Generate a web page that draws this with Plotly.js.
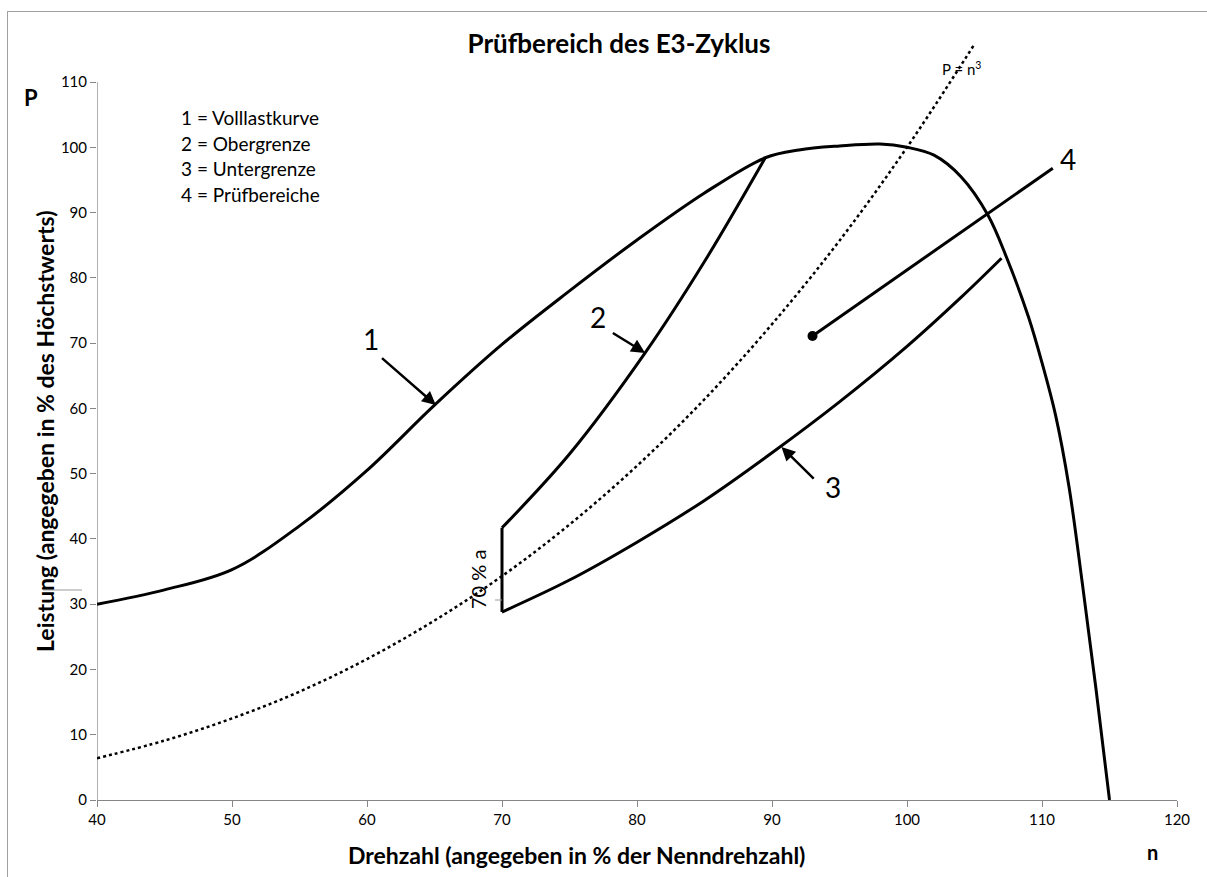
<!DOCTYPE html>
<html>
<head>
<meta charset="utf-8">
<script src="https://cdn.plot.ly/plotly-3.0.1.min.js"></script>
<style>
  body { margin:0; padding:0; background:#fff; }
  #wrap { position:relative; width:1207px; height:877px; overflow:hidden; }
  #chart { position:absolute; left:0; top:0; width:1207px; height:877px; }
  #frame { position:absolute; left:7px; top:11px; width:1300px; height:1000px;
           border-left:1.5px solid #a0a0a0; border-top:1.5px solid #a0a0a0; pointer-events:none; }
</style>
</head>
<body>
<div id="wrap"><div id="chart"></div><div id="frame"></div></div>
<script>
// ---- data ----
// Curve 1: Volllastkurve (full-load curve)
const n_full = [40, 45, 50, 55, 60, 65, 70, 75, 80, 85, 89.5, 92, 95, 98, 100, 102, 104, 106, 107.4, 109, 110, 111, 112, 113, 114, 115];
const p_full = [30, 32.2, 35.3, 42, 50.5, 60.5, 69.8, 78, 85.8, 93, 98.4, 99.6, 100.2, 100.5, 100, 98.8, 95.5, 89.6, 83, 74, 67, 59, 48, 33, 17, 0];
// Curve 2: Obergrenze (upper limit) and the vertical at 70 %
const n_upper = [70, 75, 80.6, 85, 89.5];
const p_upper = [41.7, 53, 68.5, 82.5, 98.4];
const n_vert = [70, 70];
const p_vert = [28.8, 41.7];
// Curve 3: Untergrenze (lower limit)
const n_lower = [70, 75, 80, 85, 90, 95, 100, 104, 107];
const p_lower = [28.8, 33.7, 39.5, 45.9, 53.2, 61, 69.5, 77, 83];
// P = n^3 reference curve (dotted)
const n_cube = [40, 45, 50, 55, 60, 65, 70, 75, 80, 85, 90, 95, 100, 105];
const p_cube = [6.4, 9.1, 12.5, 16.6, 21.6, 27.5, 34.3, 42.2, 51.2, 61.4, 72.9, 85.7, 100, 115.8];
// Pointer 4: Prüfbereiche (dot + line to label)
const n_area = [93, 110.8];
const p_area = [71.1, 96.8];
// numbered arrows
const arrowTail = [[61.0, 67.9], [78.1, 71.7], [93.2, 49.0]];
const arrowTip  = [[65.1, 60.5], [80.6, 68.5], [90.7, 54.1]];
const numberPos = [[60.3, 70.6], [77.1, 74.0], [94.5, 48.0], [111.9, 98.2]];
const numberText = ["1", "2", "3", "4"];
const legendLines = ["1 = Volllastkurve", "2 = Obergrenze", "3 = Untergrenze", "4 = Prüfbereiche"];
const xTicks = [40, 50, 60, 70, 80, 90, 100, 110, 120];
const yTicks = [0, 10, 20, 30, 40, 50, 60, 70, 80, 90, 100, 110];

const FONT = "Lato, 'Open Sans', sans-serif";
const blk = '#000000';
const axisGray = '#868686';

// plot area: x 97..1177 px, y 10..800 px (y range extended so the dotted curve is not clipped)
const PX = px => (px - 97) / 1080;
const PY = py => (800 - py) / 790;

const traces = [
  {x: n_cube, y: p_cube, mode: 'lines', line: {color: blk, width: 2.5, dash: 'dot', shape: 'spline'}, hoverinfo: 'skip'},
  {x: n_full, y: p_full, mode: 'lines', line: {color: blk, width: 3, shape: 'spline', smoothing: 1}, hoverinfo: 'skip'},
  {x: n_upper, y: p_upper, mode: 'lines', line: {color: blk, width: 3, shape: 'spline', smoothing: 1}, hoverinfo: 'skip'},
  {x: n_vert, y: p_vert, mode: 'lines', line: {color: blk, width: 3}, hoverinfo: 'skip'},
  {x: n_lower, y: p_lower, mode: 'lines', line: {color: blk, width: 3, shape: 'spline', smoothing: 1}, hoverinfo: 'skip'},
  {x: n_area, y: p_area, mode: 'lines', line: {color: blk, width: 3}, hoverinfo: 'skip'},
  {x: [n_area[0]], y: [p_area[0]], mode: 'markers', marker: {color: blk, size: 10}, hoverinfo: 'skip'}
];

const annotations = [];
for (let i = 0; i < arrowTail.length; i++) {
  annotations.push({
    x: arrowTip[i][0], y: arrowTip[i][1], xref: 'x', yref: 'y',
    ax: arrowTail[i][0], ay: arrowTail[i][1], axref: 'x', ayref: 'y',
    showarrow: true, arrowhead: 2, arrowsize: 1.1, arrowwidth: 2.5, arrowcolor: blk, text: ''
  });
}
for (let i = 0; i < numberText.length; i++) {
  annotations.push({x: numberPos[i][0], y: numberPos[i][1], xref: 'x', yref: 'y', text: numberText[i],
    xanchor: 'center', yanchor: 'middle', showarrow: false, font: {family: FONT, size: 28, color: blk}});
}
legendLines.forEach((t, i) => {
  annotations.push({x: PX(179), y: PY(118 + i * 25.5), xref: 'paper', yref: 'paper', text: t, showarrow: false,
    xanchor: 'left', yanchor: 'middle', font: {family: FONT, size: 19, color: blk}});
});
function label(px, py, text, size, angle) {
  annotations.push({x: PX(px), y: PY(py), xref: 'paper', yref: 'paper', text: text, showarrow: false,
    xanchor: 'center', yanchor: 'middle', textangle: angle || 0, font: {family: FONT, size: size, color: blk}});
}
label(961, 69, 'P = n<sup>3</sup>', 15);
label(478, 580, '70 % a', 20, -90);
label(31, 97, '<b>P</b>', 22);
label(1152, 852, '<b>n</b>', 20);
label(576, 855, '<b>Drehzahl (angegeben in % der Nenndrehzahl)</b>', 23);
label(45, 432, '<b>Leistung (angegeben in % des Höchstwerts)</b>', 23, -90);

const layout = {
  width: 1207, height: 877,
  margin: {l: 97, r: 30, t: 10, b: 77, pad: 0},
  paper_bgcolor: '#ffffff', plot_bgcolor: '#ffffff',
  showlegend: false,
  title: {text: '<b>Prüfbereich des E3-Zyklus</b>', x: 619 / 1207, xref: 'container', xanchor: 'center',
          y: 1 - 44 / 877, yref: 'container', yanchor: 'middle', font: {family: FONT, size: 26, color: blk}},
  xaxis: {range: [40, 120], tickvals: xTicks, ticks: 'outside', ticklen: 6, tickcolor: axisGray,
          showline: true, linecolor: axisGray, linewidth: 1.3, showgrid: false, zeroline: false,
          tickfont: {family: FONT, size: 15, color: blk}, fixedrange: true},
  yaxis: {range: [0, 790 / 6.527], tickvals: yTicks, ticks: 'outside', ticklen: 6, tickcolor: axisGray,
          showline: false, showgrid: false, zeroline: false,
          tickfont: {family: FONT, size: 15, color: blk}, fixedrange: true},
  annotations: annotations,
  shapes: [
    {type: 'line', xref: 'x', yref: 'y', x0: 40, x1: 40, y0: 0, y1: 110, line: {color: axisGray, width: 1.3}, layer: 'below'},
    {type: 'line', xref: 'paper', yref: 'paper', x0: PX(43), x1: PX(82), y0: PY(590), y1: PY(590), line: {color: '#9a9a9a', width: 1}},
    {type: 'line', xref: 'paper', yref: 'paper', x0: PX(495), x1: PX(502), y0: PY(600), y1: PY(600), line: {color: '#9a9a9a', width: 1}}
  ]
};

Plotly.newPlot('chart', traces, layout, {staticPlot: true, displayModeBar: false});
</script>
</body>
</html>
